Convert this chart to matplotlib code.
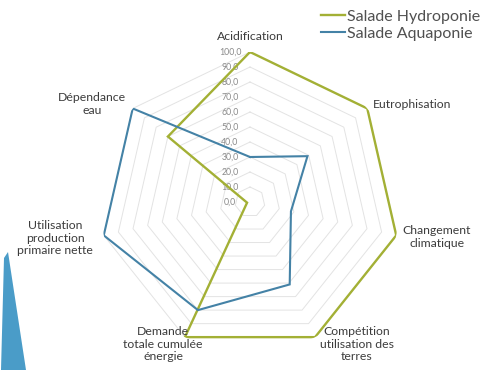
import numpy as np
import matplotlib
matplotlib.use("Agg")
import matplotlib.pyplot as plt
from matplotlib.transforms import ScaledTranslation
from matplotlib.patches import Polygon

categories = ["Acidification", "Eutrophisation", "Changement\nclimatique",
              "Compétition\nutilisation des\nterres", "Demande\ntotale cumulée\nénergie",
              "Utilisation\nproduction\nprimaire nette", "Dépendance\neau"]
hydroponie = [100, 100, 100, 100, 100, 2, 70]
aquaponie = [30, 49, 28, 61, 80, 100, 100]
series_names = ["Salade Hydroponie", "Salade Aquaponie"]
ticks = [0, 10, 20, 30, 40, 50, 60, 70, 80, 90, 100]

green = "#a3b035"
blue = "#4482a6"
W, H = 484, 370
plt.rcParams['font.family'] = ['Lato', 'DejaVu Sans']

fig = plt.figure(figsize=(W / 100, H / 100), dpi=100)
fig.patch.set_facecolor("white")

# axes box: pixel x 100..400, y(top) 52..352 -> centre (250,202), R=150
ax = fig.add_axes([100 / W, 1 - 352 / H, 300 / W, 300 / H], projection="polar")
ax.set_theta_offset(np.pi / 2)
ax.set_theta_direction(-1)
ax.set_ylim(0, 100)
ax.grid(False)
ax.set_xticks([])
ax.set_yticks([])
ax.spines['polar'].set_visible(False)
ax.set_facecolor("none")

n = len(categories)
angles = np.linspace(0, 2 * np.pi, n, endpoint=False)
closed = np.append(angles, angles[0])

for t in ticks[1:]:
    ax.plot(closed, [t] * (n + 1), color="#e3e3e3", lw=0.7, zorder=1)

off = ScaledTranslation(-20 / 100, 0, fig.dpi_scale_trans)
for t in ticks:
    ax.text(0, t, f"{t:.1f}".replace(".", ","), transform=ax.transData + off,
            ha="center", va="center", fontsize=6.3, color="#8a8a8a", zorder=2)

l1, = ax.plot(closed, hydroponie + [hydroponie[0]], color=green, lw=1.7, zorder=3,
              label=series_names[0], solid_joinstyle="miter")
l2, = ax.plot(closed, aquaponie + [aquaponie[0]], color=blue, lw=1.5, zorder=4,
              label=series_names[1], solid_joinstyle="miter")

# category labels (pixel centres)
label_pos = [(250, 37, "center"), (373, 104, "left"), (437, 237, "center"),
             (357, 344, "center"), (163, 344, "center"), (55, 238, "center"),
             (92, 104, "center")]
for cat, (px, py, ha) in zip(categories, label_pos):
    ax.text((px - 100) / 300, (352 - py) / 300, cat, transform=ax.transAxes,
            ha=ha, va="center", multialignment="center", fontsize=8.8,
            color="#3c3c3c", linespacing=1.12)

fig.legend(handles=[l1, l2], loc="upper left", bbox_to_anchor=(315 / W, 1 - 3 / H),
           frameon=False, fontsize=11.5, handlelength=1.45, handletextpad=0.15,
           labelspacing=0.2, labelcolor="#505050", borderaxespad=0)

# decorative wedge at bottom-left
wedge = Polygon([(1 / W, 0), (26 / W, 0), (8 / W, 1 - 252 / H), (4 / W, 1 - 258 / H)],
                closed=True, transform=fig.transFigure, facecolor="#4a9cc8",
                edgecolor="none")
fig.patches.append(wedge)

fig.savefig("out.png", dpi=100, facecolor="white")
